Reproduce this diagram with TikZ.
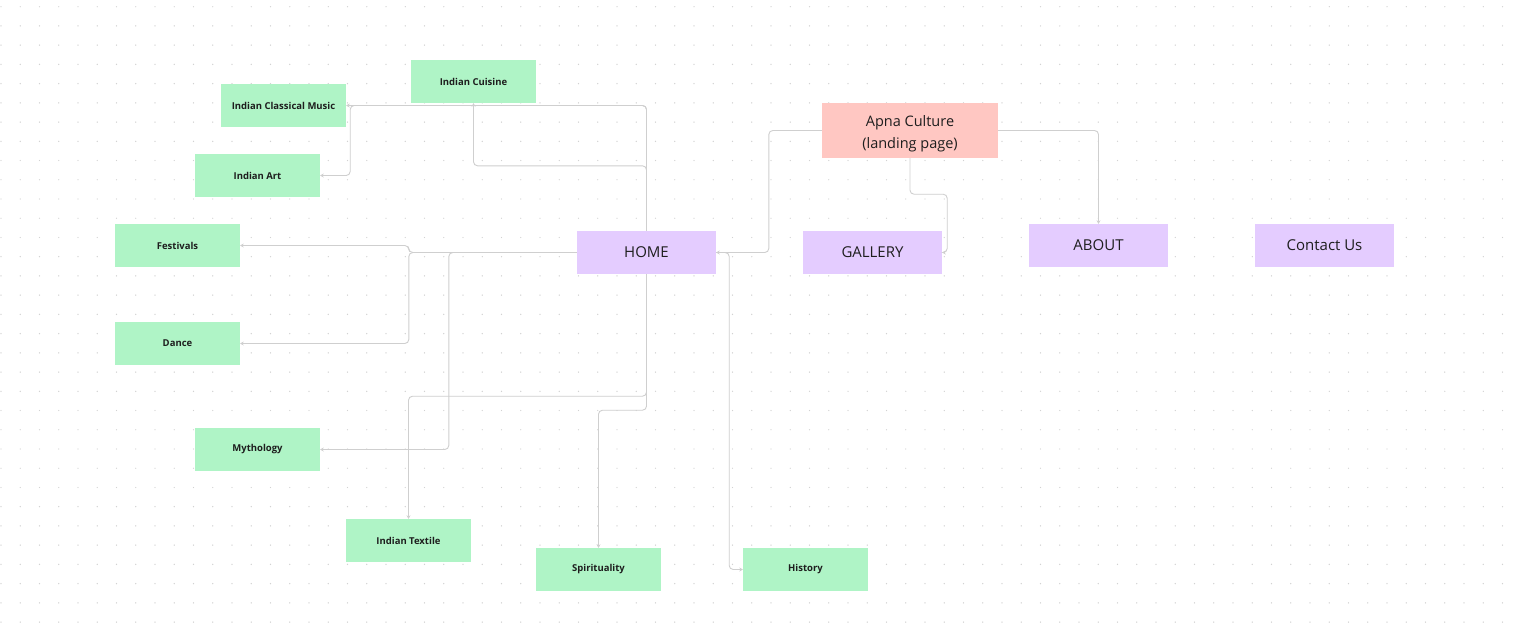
\documentclass[tikz,border=0pt]{standalone}
\usepackage{fontspec}
\setmainfont{Open Sans}
\usetikzlibrary{arrows.meta,positioning,calc}
\definecolor{topicgreen}{HTML}{AFF4C6}
\definecolor{pagepurple}{HTML}{E4CCFF}
\definecolor{landingred}{HTML}{FFC7C2}
\definecolor{wire}{HTML}{CFCFCF}
\definecolor{griddot}{HTML}{D2D2D2}
\definecolor{ink}{HTML}{1E1E1E}

\begin{document}
\begin{tikzpicture}[x = 1pt, y = -1pt,
  topic/.style = {fill = topicgreen, text = ink, minimum width = 125pt, minimum height = 43pt, inner sep = 0pt, font = \fontsize{9.5}{11}\selectfont\bfseries},
  page/.style = {fill = pagepurple, text = ink, minimum width = 139pt, minimum height = 43pt, inner sep = 0pt, font = \fontsize{15}{18}\selectfont},
  landing/.style = {fill = landingred, text = ink, minimum width = 176pt, minimum height = 55pt, inner sep = 0pt, align = center, font = \fontsize{14.5}{22}\selectfont},
  link/.style = {draw = wire, line width = 0.9pt, rounded corners = 4pt, -{Stealth[length = 3.5pt, width = 4pt]}}]
\useasboundingbox (0, 0) rectangle (1514, 630);
\fill[white] (0, 0) rectangle (1514, 630);
\foreach \i in {0,...,78}
  \foreach \j in {0,...,32}
    \fill[griddot] (1 + 19.25*\i, 6.7 + 19.23*\j) circle (0.7);

\node[landing] (apna) at (910, 130.5) {\rule{0pt}{17pt}Apna Culture\\(landing page)};
\node[page] (home) at (646.5, 252.5) {HOME};
\node[page] (gallery) at (872.5, 252.5) {GALLERY};
\node[page] (about) at (1098.5, 245.5) {ABOUT};
\node[page] (contact) at (1324.5, 245.5) {Contact Us};

\node[topic] (cuisine) at (473.5, 81.5) {Indian Cuisine};
\node[topic] (music) at (283.5, 105.5) {Indian Classical Music};
\node[topic] (art) at (257.5, 175.5) {Indian Art};
\node[topic] (festivals) at (177.5, 245.5) {Festivals};
\node[topic] (dance) at (177.5, 343.5) {Dance};
\node[topic] (mythology) at (257.5, 449.5) {Mythology};
\node[topic] (textile) at (408.5, 540.5) {Indian Textile};
\node[topic] (spirit) at (598.5, 569.5) {Spirituality};
\node[topic] (history) at (805.5, 569.5) {History};

\draw[link] (apna.west) -- ++(-53, 0) |- (home.east);
\draw[link] (apna.south) -- ++(0, 36) -| ([xshift = 5pt]gallery.east) -- (gallery.east);
\draw[link] (apna.east) -| (about.north);

\draw[link] (home.north) |- (music.east);
\draw[link] (home.north) |- ([xshift = 4pt]music.east) |- (art.east);
\draw[link] (home.north) -- ++(0, -65) -| (cuisine.south);
\draw[link] (home.west) -- ++(-168, 0) |- (festivals.east);
\draw[link] (home.west) -- ++(-168, 0) |- (dance.east);
\draw[link] (home.west) -- ++(-128, 0) |- (mythology.east);
\draw[link] (home.south) -- ++(0, 122) -| (textile.north);
\draw[link] (home.south) -- ++(0, 136) -| (spirit.north);
\draw[link] (home.east) -- ++(13, 0) |- (history.west);
\end{tikzpicture}
\end{document}
